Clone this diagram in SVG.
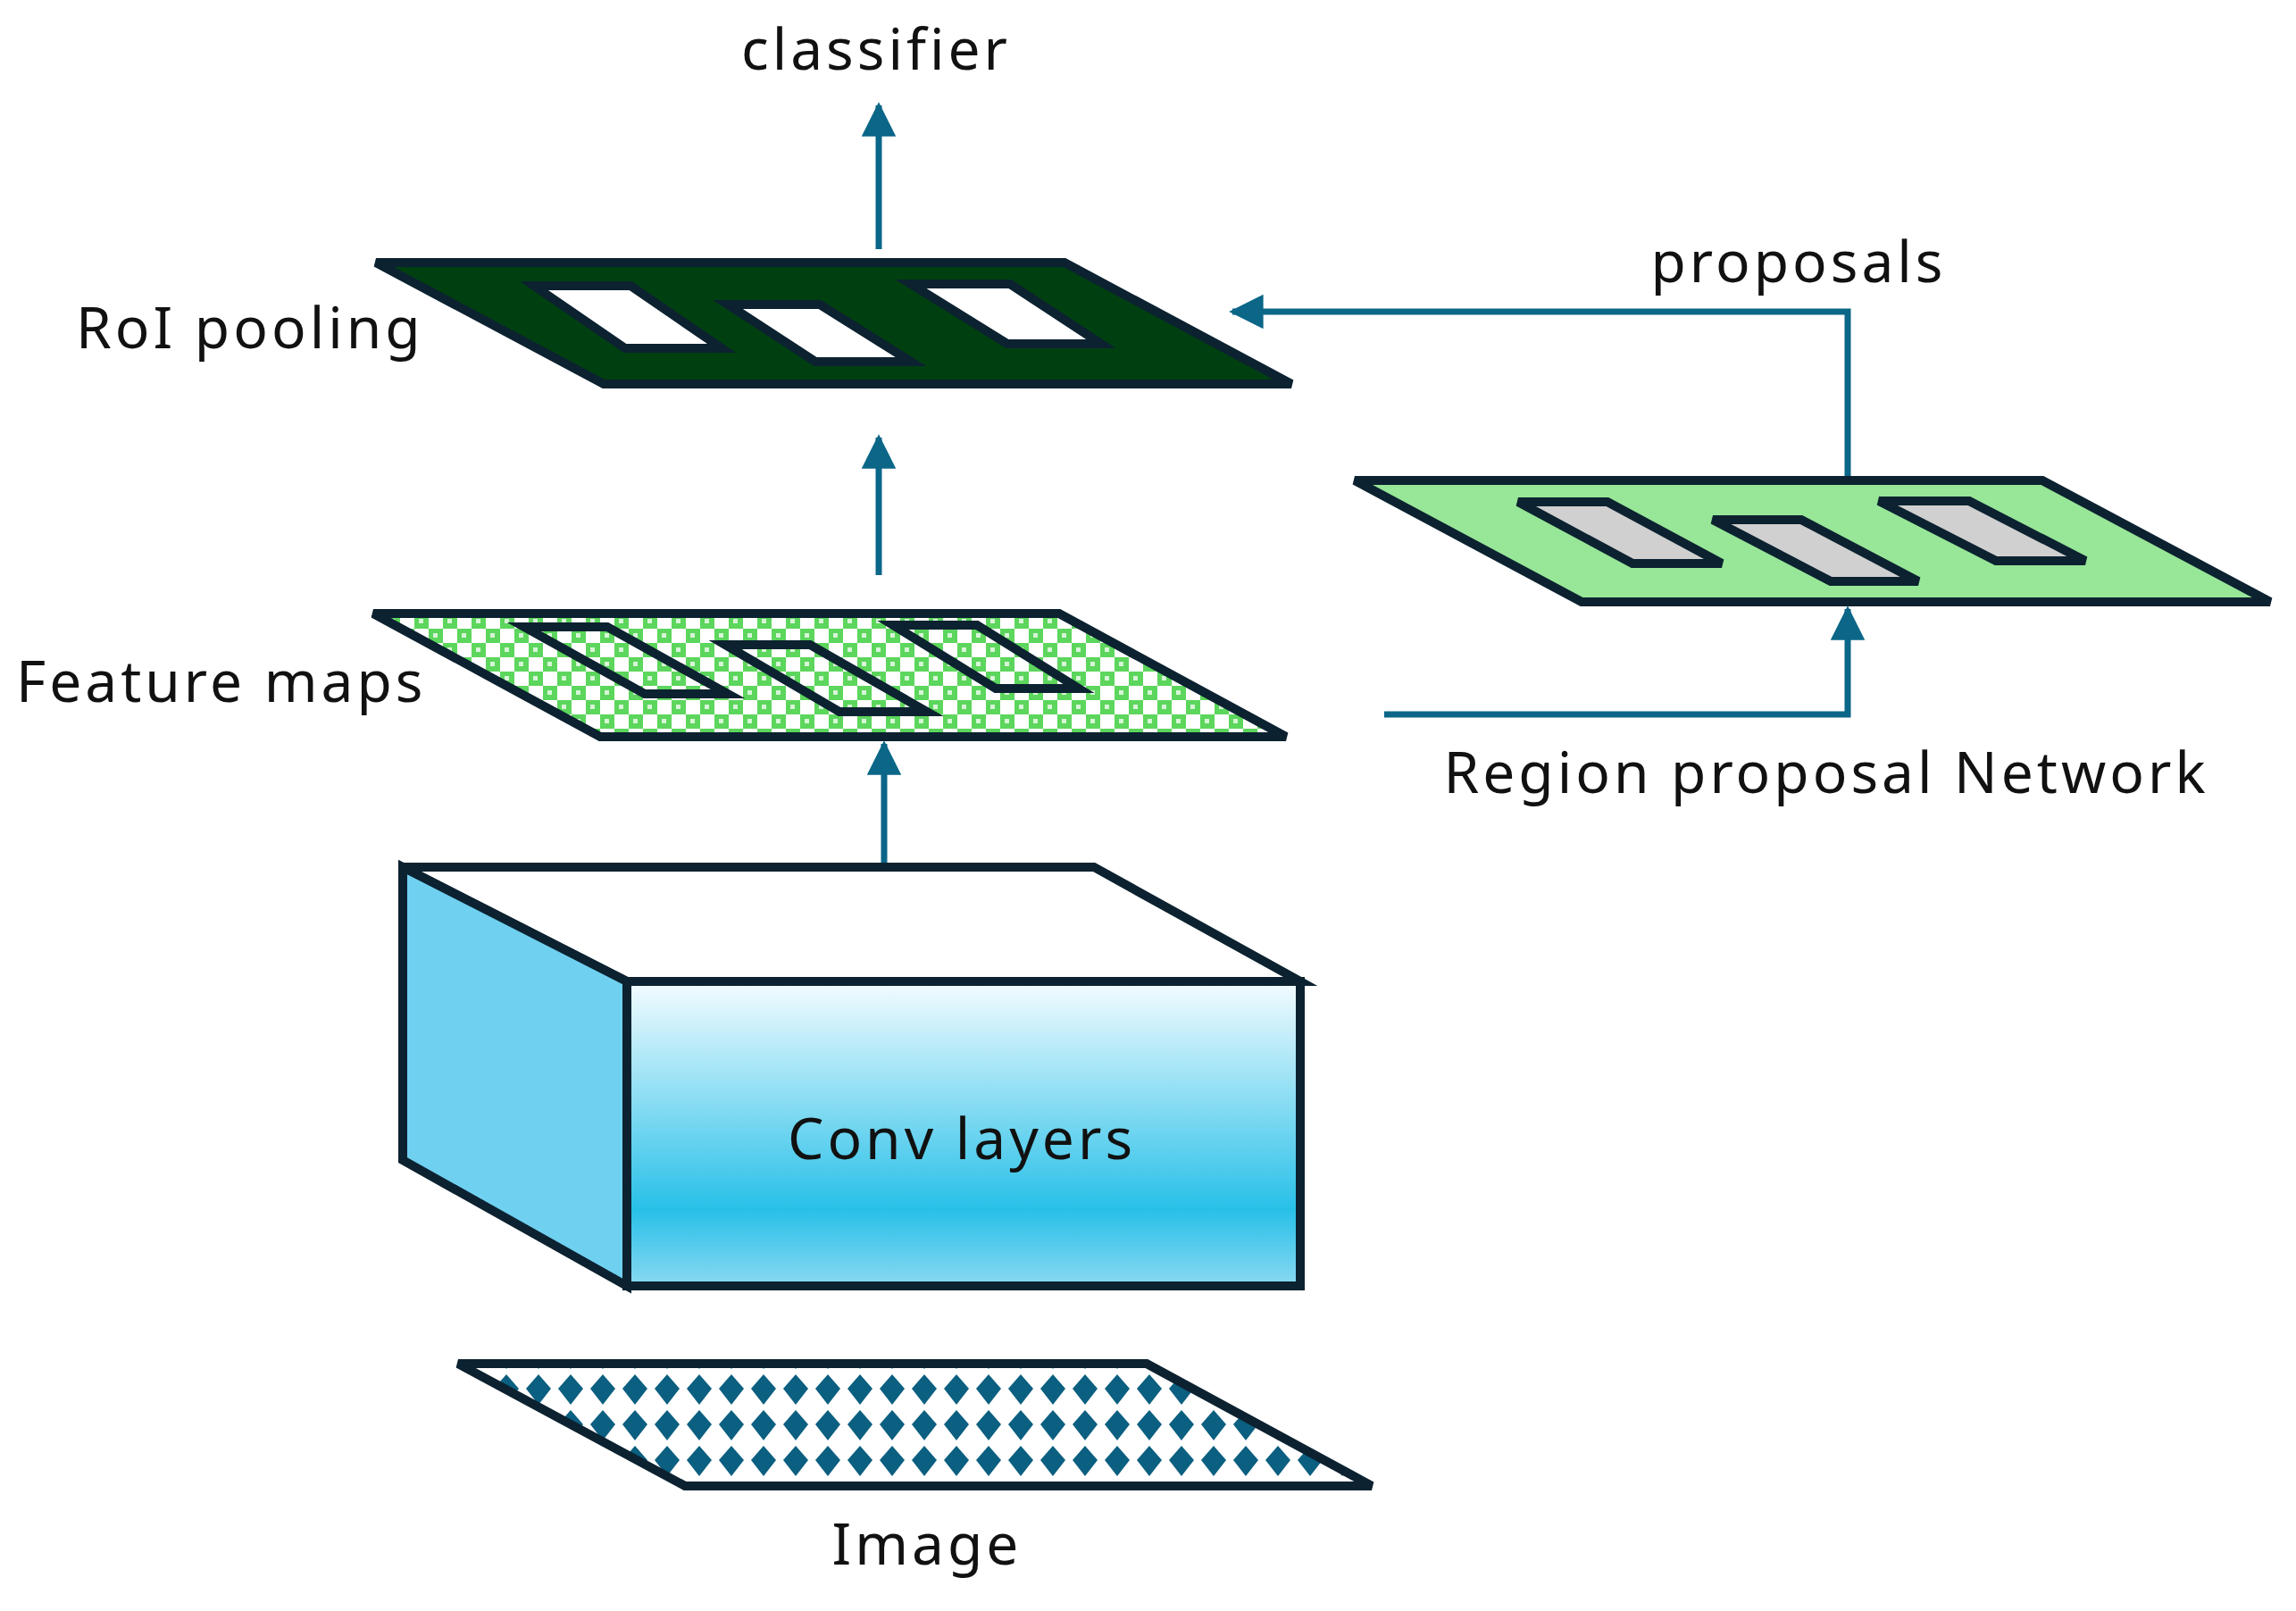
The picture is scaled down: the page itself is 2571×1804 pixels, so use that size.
<svg xmlns="http://www.w3.org/2000/svg" width="2571" height="1804" viewBox="0 0 2571 1804">
<defs>
<style>
text{font-family:"Noto Sans","Open Sans","DejaVu Sans",sans-serif;fill:#111;font-size:64px;letter-spacing:4px}
.ed{stroke:#0c2230;stroke-width:10;stroke-linejoin:miter}
.ar{stroke:#0b6688;stroke-width:7;fill:none}
</style>
<marker id="ah" viewBox="0 0 10 10" refX="9" refY="5" markerWidth="5.5" markerHeight="5.5" orient="auto" markerUnits="strokeWidth"><path d="M0,0L10,5L0,10z" fill="#0b6688"/></marker>
<pattern id="chk" width="32" height="32" patternUnits="userSpaceOnUse">
<rect width="32" height="32" fill="#fff"/>
<rect width="16" height="16" fill="#5cd65c"/><rect x="16" y="16" width="16" height="16" fill="#5cd65c"/>
<rect x="5" y="5" width="5" height="5" fill="#d8f5d8"/><rect x="21" y="21" width="5" height="5" fill="#d8f5d8"/>
</pattern>
<pattern id="dia" x="513" y="1535" width="36" height="40" patternUnits="userSpaceOnUse">
<rect width="36" height="40" fill="#fff"/>
<path d="M18,4L32,20L18,38L4,20z" fill="#0b5f80"/>
</pattern>
<linearGradient id="fg" x1="0" y1="0" x2="0" y2="1">
<stop offset="0" stop-color="#f4fcff"/><stop offset="0.75" stop-color="#28c0e8"/><stop offset="1" stop-color="#8ad9f2"/>
</linearGradient>
</defs>
<rect width="2571" height="1804" fill="#fff"/>
<g id="connectors">
<line class="ar" x1="984" y1="279" x2="984" y2="118" marker-end="url(#ah)"/>
<line class="ar" x1="984" y1="644" x2="984" y2="490" marker-end="url(#ah)"/>
<line class="ar" x1="990" y1="967" x2="990" y2="833" marker-end="url(#ah)"/>
<polyline class="ar" points="2069,538 2069,349 1380,349" marker-end="url(#ah)"/>
<polyline class="ar" points="1550,800 2069,800 2069,682" marker-end="url(#ah)"/>
</g>
<g id="classifier"><text x="981" y="78" text-anchor="middle">classifier</text></g>
<g id="roi">
<polygon class="ed" points="421,294 1192,294 1446,430 676,430" fill="#004010"/>
<polygon class="ed" points="598,320 706,320 808,390 700,390" fill="#fff"/>
<polygon class="ed" points="815,341 918,341 1020,405 913,405" fill="#fff"/>
<polygon class="ed" points="1020,318 1131,318 1233,385 1128,385" fill="#fff"/>
<text x="85" y="390">RoI pooling</text>
</g>
<g id="featuremaps">
<polygon class="ed" points="418,687 1186,687 1440,825 672,825" fill="url(#chk)"/>
<polygon class="ed" points="587,702 680,702 815,777 722,777" fill="none"/>
<polygon class="ed" points="812,722 907,722 1038,797 940,797" fill="none"/>
<polygon class="ed" points="1000,700 1094,700 1208,771 1115,771" fill="none"/>
<text x="18" y="786">Feature maps</text>
</g>
<g id="conv">
<polygon class="ed" points="451,971 1225,971 1456,1099 702,1099" fill="#fff"/>
<polygon class="ed" points="451,971 702,1099 702,1440 451,1299" fill="#70d0f0"/>
<rect class="ed" x="702" y="1099" width="754" height="341" fill="url(#fg)"/>
<text x="1077" y="1298" text-anchor="middle" font-size="74">Conv layers</text>
</g>
<g id="image">
<polygon class="ed" points="513,1527 1284,1527 1536,1664 767,1664" fill="url(#dia)"/>
<text x="1038" y="1752" text-anchor="middle">Image</text>
</g>
<g id="rpn">
<polygon class="ed" points="1517,538 2287,538 2542,674 1771,674" fill="#98e698"/>
<polygon class="ed" points="1700,562 1800,562 1928,631 1828,631" fill="#d0d0d0"/>
<polygon class="ed" points="1918,582 2017,582 2148,651 2050,651" fill="#d0d0d0"/>
<polygon class="ed" points="2104,561 2205,561 2335,628 2235,628" fill="#d0d0d0"/>
<text x="2014" y="316" text-anchor="middle">proposals</text>
<text x="2045" y="888" text-anchor="middle">Region proposal Network</text>
</g>
</svg>
